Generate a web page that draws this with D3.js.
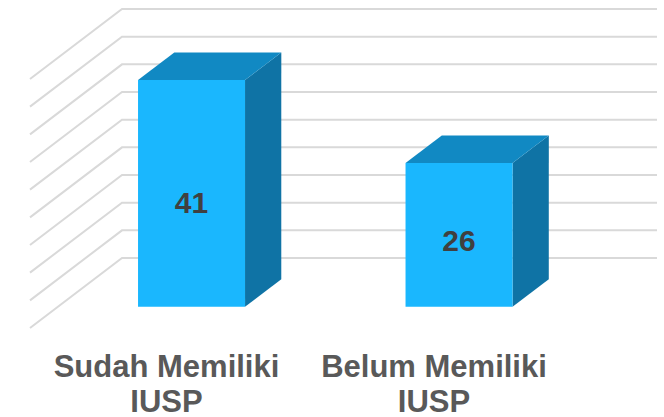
<!DOCTYPE html>
<html>
<head>
<meta charset="utf-8">
<script src="https://cdn.jsdelivr.net/npm/d3@7"></script>
<style>
  html, body { margin: 0; padding: 0; background: #ffffff; }
  svg { display: block; }
</style>
</head>
<body>
<svg id="chart" width="664" height="417"></svg>
<script>
// ---- data ----
const categories = ["Sudah Memiliki IUSP", "Belum Memiliki IUSP"];
const values = [41, 26];
const tickValues = [0, 5, 10, 15, 20, 25, 30, 35, 40, 45];

// ---- layout ----
const W = 664, H = 417;
const backLeft = 122, backRight = 657;
const depthDX = -92, depthDY = 70;       // full floor depth vector
const barFront = 0.698, barBack = 0.304; // bar depth fractions
const labelDepth = 0.97;

const svg = d3.select("#chart");

const y = d3.scaleLinear().domain([0, 45]).range([258, 9]);
const x = d3.scaleBand().domain(categories)
  .range([backLeft, backRight]).paddingInner(0.6).paddingOuter(0.3);

const P = (xw, v, f) => [xw + depthDX * f, y(v) + depthDY * f];

// gridlines: left wall diagonal + back wall horizontal
const grid = svg.append("g");
tickValues.forEach(t => {
  const pts = [P(backLeft, t, 1), P(backLeft, t, 0), [backRight, y(t)]];
  grid.append("polyline")
    .attr("points", pts.map(p => p.join(",")).join(" "))
    .attr("fill", "none")
    .attr("stroke", "#D9D9D9")
    .attr("stroke-width", 2);
});

// bars
const bars = svg.append("g");
const poly = pts => pts.map(p => p.join(",")).join(" ");
categories.forEach((c, i) => {
  const v = values[i];
  const xl = x(c), xr = x(c) + x.bandwidth();
  const ftl = P(xl, v, barFront), ftr = P(xr, v, barFront);
  const fbl = P(xl, 0, barFront), fbr = P(xr, 0, barFront);
  const btl = P(xl, v, barBack), btr = P(xr, v, barBack);
  const bbr = P(xr, 0, barBack);
  // side
  bars.append("polygon").attr("points", poly([ftr, btr, bbr, fbr]))
    .attr("fill", "#0F73A5");
  // top
  bars.append("polygon").attr("points", poly([ftl, ftr, btr, btl]))
    .attr("fill", "#1189C3");
  // front
  bars.append("polygon").attr("points", poly([ftl, ftr, fbr, fbl]))
    .attr("fill", "#1AB7FE");
  // value label
  const cx = (ftl[0] + ftr[0]) / 2;
  const cy = fbl[1] - (y(0) - y(v)) * 0.46;
  bars.append("text")
    .attr("x", cx).attr("y", cy)
    .attr("text-anchor", "middle")
    .attr("dominant-baseline", "central")
    .attr("font-family", "'Liberation Sans', Arial, sans-serif")
    .attr("font-weight", "bold")
    .attr("font-size", 30)
    .attr("fill", "#404040")
    .text(v);
});

// category labels
const labels = svg.append("g");
categories.forEach(c => {
  const cx = P(x(c) + x.bandwidth() / 2, 0, labelDepth)[0];
  const idx = c.lastIndexOf(" ");
  const lines = [c.slice(0, idx), c.slice(idx + 1)];
  const t = labels.append("text")
    .attr("text-anchor", "middle")
    .attr("font-family", "'Liberation Sans', Arial, sans-serif")
    .attr("font-weight", "bold")
    .attr("font-size", 31)
    .attr("fill", "#595959");
  lines.forEach((ln, k) => {
    t.append("tspan").attr("x", cx).attr("y", 376.5 + k * 35).text(ln);
  });
});
</script>
</body>
</html>
